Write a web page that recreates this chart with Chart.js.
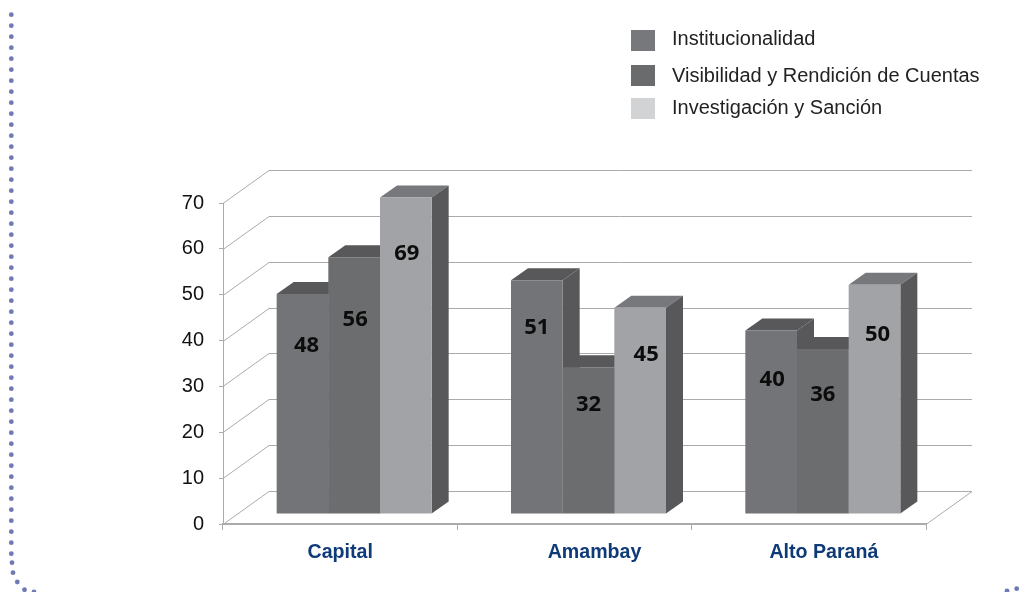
<!DOCTYPE html>
<html>
<head>
<meta charset="utf-8">
<script src="https://cdn.jsdelivr.net/npm/chart.js@4"></script>
<style>
    html, body { margin: 0; padding: 0; background: #fff; }
    #wrap { position: relative; width: 1020px; height: 592px; overflow: hidden; }
    #legend { position: absolute; left: 631px; top: 30px; font: 20px "Liberation Sans", sans-serif; color: #222; }
    .row { display: flex; align-items: center; height: 21px; }
    .box { width: 24px; height: 21px; margin-right: 17px; }
    .txt { position: relative; white-space: nowrap; }
</style>
</head>
<body>
<div id="wrap">
    <canvas id="chart" width="1020" height="592"></canvas>
    <div id="legend"></div>
</div>
<script>
// Chart data
const categories = ['Capital', 'Amambay', 'Alto Paraná'];
const seriesNames = ['Institucionalidad', 'Visibilidad y Rendición de Cuentas', 'Investigación y Sanción'];
const institucionalidad = [48, 51, 40];
const visibilidad = [56, 32, 36];
const investigacion = [69, 45, 50];
const yTicks = [0, 10, 20, 30, 40, 50, 60, 70];

// Colours per series
const frontColors = ['#737477', '#6c6d6f', '#a2a3a6'];
const topColors = ['#58585a', '#58585a', '#77787b'];
const sideColor = '#58585a';
const legendColors = ['#77787b', '#6a6b6d', '#d1d3d4'];
const gridColor = '#ababab';

// 3D look: depth of the walls and of the bars
const wallDepth = { x: 46, y: 33 };
const barDepth = { x: 17, y: 12 };
const barShift = { x: 14, y: 10 };

// Hand placed data labels and category names in the original
const labelDrop = [[52, 63, 56], [48, 37, 47], [49, 46, 50]];
const labelNudge = [[4, 1, 1], [0, 0, 6], [1, 0, 3]];
const categoryNudge = [0, 20, 15];

// Legend rows are not evenly spaced in the original
const legendGap = [14, 12, 0];
const legendTextLift = [-2, 0, -1];

const walls3d = {
    id: 'walls3d',
    beforeDatasetsDraw(chart) {
        const ctx = chart.ctx;
        const y = chart.scales.y;
        const area = chart.chartArea;
        ctx.save();
        ctx.strokeStyle = gridColor;
        ctx.lineWidth = 1;
        yTicks.forEach(function(tick) {
            const py = Math.round(y.getPixelForValue(tick)) + 0.5;
            ctx.beginPath();
            ctx.moveTo(area.left, py);
            ctx.lineTo(area.left + wallDepth.x, py - wallDepth.y);
            ctx.lineTo(area.right + wallDepth.x, py - wallDepth.y);
            if (tick === 0) {
                ctx.lineTo(area.right, py);
            }
            ctx.stroke();
        });
        // tops and sides go first, left to right; the library paints the fronts over them
        ctx.translate(barShift.x, -barShift.y);
        chart.data.datasets.forEach(function(ds, i) {
            chart.getDatasetMeta(i).data.forEach(function(bar) {
                const left = bar.x - bar.width / 2;
                const right = bar.x + bar.width / 2;
                ctx.fillStyle = topColors[i];
                ctx.beginPath();
                ctx.moveTo(left, bar.y);
                ctx.lineTo(left + barDepth.x, bar.y - barDepth.y);
                ctx.lineTo(right + barDepth.x, bar.y - barDepth.y);
                ctx.lineTo(right, bar.y);
                ctx.closePath();
                ctx.fill();
                ctx.fillStyle = sideColor;
                ctx.beginPath();
                ctx.moveTo(right, bar.y);
                ctx.lineTo(right + barDepth.x, bar.y - barDepth.y);
                ctx.lineTo(right + barDepth.x, bar.base - barDepth.y);
                ctx.lineTo(right, bar.base);
                ctx.closePath();
                ctx.fill();
            });
        });
        ctx.restore();
    },
    beforeDatasetDraw(chart) {
        chart.ctx.save();
        chart.ctx.translate(barShift.x, -barShift.y);
    },
    afterDatasetDraw(chart) {
        chart.ctx.restore();
    },
    afterDatasetsDraw(chart) {
        const ctx = chart.ctx;
        ctx.save();
        // value labels
        ctx.fillStyle = '#0c0c0c';
        ctx.font = 'bold 22px "Open Sans", sans-serif';
        ctx.textAlign = 'center';
        ctx.textBaseline = 'middle';
        chart.data.datasets.forEach(function(ds, i) {
            chart.getDatasetMeta(i).data.forEach(function(bar, j) {
                const x = bar.x + barShift.x + labelNudge[j][i];
                const y = bar.y - barShift.y + labelDrop[j][i];
                ctx.fillText(ds.data[j], x, y);
            });
        });
        // category names
        ctx.fillStyle = '#0f3a78';
        ctx.font = 'bold 19.6px "Liberation Sans", sans-serif';
        categories.forEach(function(name, j) {
            ctx.fillText(name, chart.scales.x.getPixelForValue(j) + categoryNudge[j], 553);
        });
        // dotted page border
        ctx.fillStyle = '#6f7ab5';
        for (let py = 14.7; py < 556; py += 11) {
            dot(ctx, 11.3, py);
        }
        [[12, 562.7], [13, 572.7], [17.3, 582], [24.5, 589.7], [34, 592], [1007, 591], [1016.7, 588.7]].forEach(function(p) {
            dot(ctx, p[0], p[1]);
        });
        ctx.restore();
    }
};

function dot(ctx, x, y) {
    ctx.beginPath();
    ctx.arc(x, y, 2.4, 0, Math.PI * 2);
    ctx.fill();
}

new Chart(document.getElementById('chart').getContext('2d'), {
    type: 'bar',
    data: {
        labels: categories,
        datasets: [institucionalidad, visibilidad, investigacion].map(function(values, i) {
            return {
                label: seriesNames[i],
                data: values,
                backgroundColor: frontColors[i],
                categoryPercentage: 0.6615,
                barPercentage: 1,
                clip: false
            };
        })
    },
    options: {
        responsive: false,
        animation: false,
        layout: { padding: { top: 203, right: 94, left: 0, bottom: 0 } },
        plugins: { legend: { display: false }, tooltip: { enabled: false } },
        scales: {
            x: {
                afterFit: function(scale) { scale.height = 68; },
                grid: { drawOnChartArea: false, tickLength: 6, color: gridColor },
                border: { color: gridColor, width: 2 },
                ticks: { display: false }
            },
            y: {
                min: 0,
                max: 70,
                afterFit: function(scale) { scale.width = 223; },
                afterBuildTicks: function(scale) {
                    scale.ticks = yTicks.map(function(v) { return { value: v }; });
                },
                grid: { drawOnChartArea: false, tickLength: 4, color: gridColor },
                border: { color: gridColor, width: 1 },
                ticks: {
                    color: '#111',
                    padding: 15,
                    font: { family: '"Liberation Sans", sans-serif', size: 20 }
                }
            }
        }
    },
    plugins: [walls3d]
});

// HTML legend
const legendEl = document.getElementById('legend');
seriesNames.forEach(function(name, i) {
    const row = document.createElement('div');
    row.className = 'row';
    row.style.marginBottom = legendGap[i] + 'px';
    const box = document.createElement('div');
    box.className = 'box';
    box.style.background = legendColors[i];
    const txt = document.createElement('div');
    txt.className = 'txt';
    txt.style.top = legendTextLift[i] + 'px';
    txt.textContent = name;
    row.appendChild(box);
    row.appendChild(txt);
    legendEl.appendChild(row);
});
</script>
</body>
</html>
